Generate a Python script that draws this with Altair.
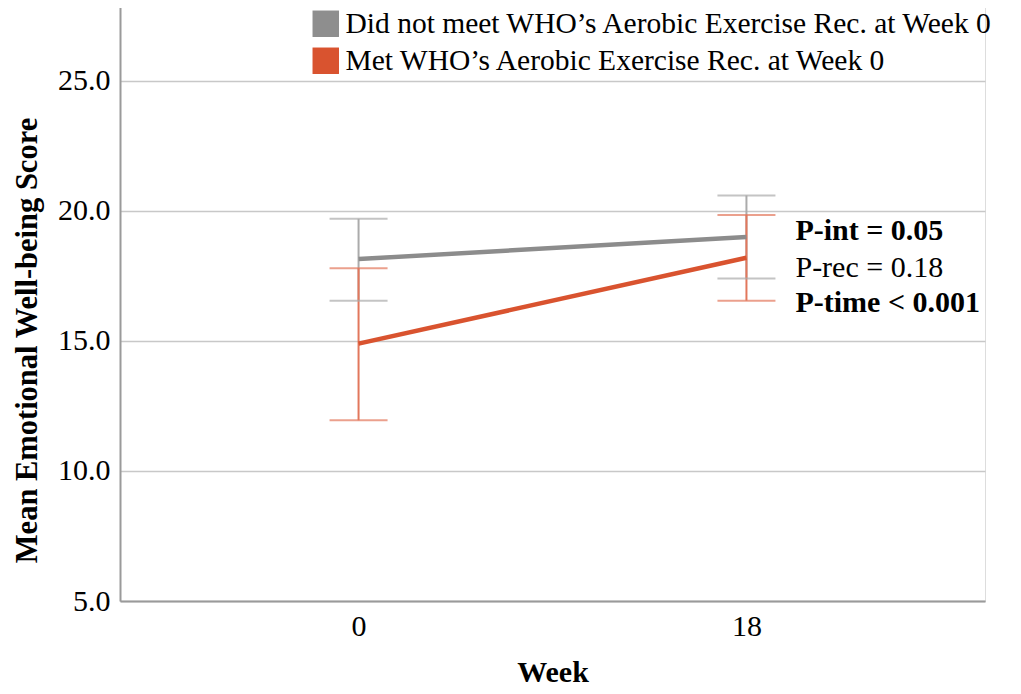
import altair as alt
import pandas as pd

weeks = ["0", "18"]
groups = ["Did not meet WHO’s Aerobic Exercise Rec. at Week 0",
          "Met WHO’s Aerobic Exercise Rec. at Week 0"]
gray_mean = [18.15, 19.0]
gray_lo = [16.55, 17.4]
gray_hi = [19.7, 20.6]
red_mean = [14.9, 18.2]
red_lo = [11.95, 16.55]
red_hi = [17.8, 19.85]

ann_bold = ["P-int = 0.05", "P-time < 0.001"]
ann_bold_y = [19.22, 16.45]
ann_norm = ["P-rec = 0.18"]
ann_norm_y = [17.8]

FONT = "Liberation Serif"
GRAY_LINE = "#8c8c8c"
RED_LINE = "#d9532f"
GRAY_ERR = "#ababab"
RED_ERR = "#e2775c"

rows = []
for i, w in enumerate(weeks):
    rows.append({"week": w, "group": groups[0], "mean": gray_mean[i], "lo": gray_lo[i], "hi": gray_hi[i]})
    rows.append({"week": w, "group": groups[1], "mean": red_mean[i], "lo": red_lo[i], "hi": red_hi[i]})
df = pd.DataFrame(rows)

ann_b = pd.DataFrame({"week": ["18"] * len(ann_bold), "y": ann_bold_y, "t": ann_bold})
ann_n = pd.DataFrame({"week": ["18"] * len(ann_norm), "y": ann_norm_y, "t": ann_norm})

xscale = alt.Scale(type="point", domain=weeks, padding=0.615)
x = alt.X("week:O", scale=xscale,
          axis=alt.Axis(title="Week", labelAngle=0, labelFont=FONT, labelFontSize=30,
                        labelColor="black", labelPadding=10, ticks=False,
                        titleFont=FONT, titleFontSize=30, titleFontWeight="bold",
                        titleColor="black", titlePadding=16,
                        domainColor="#9a9a9a", domainWidth=2, grid=False))
yscale = alt.Scale(domain=[5, 28.115], nice=False, zero=False)
y = alt.Y("mean:Q", scale=yscale,
          axis=alt.Axis(title="Mean Emotional Well-being Score", values=[5, 10, 15, 20, 25],
                        format=".1f", labelFont=FONT, labelFontSize=30, labelColor="black",
                        labelPadding=10, ticks=False, titleFont=FONT, titleFontSize=30.5,
                        titleFontWeight="bold", titleColor="black", titlePadding=15,
                        titleY=340,
                        domainColor="#9a9a9a", domainWidth=2, grid=True,
                        gridColor="#c8c8c8", gridWidth=1.5))

err_color = alt.Color("group:N", scale=alt.Scale(domain=groups, range=[GRAY_ERR, RED_ERR]), legend=None)

base = alt.Chart(df)

err_rule = base.mark_rule(strokeWidth=2).encode(x=x, y=alt.Y("lo:Q", scale=yscale), y2="hi:Q",
                                                 color=err_color)
cap_lo = base.mark_tick(size=58, thickness=2).encode(x=x, y=alt.Y("lo:Q", scale=yscale), color=err_color)
cap_hi = base.mark_tick(size=58, thickness=2).encode(x=x, y=alt.Y("hi:Q", scale=yscale), color=err_color)

lines = base.mark_line(strokeWidth=4.5).encode(
    x=x, y=y,
    color=alt.Color("group:N", scale=alt.Scale(domain=groups, range=[GRAY_LINE, RED_LINE]), legend=None),
    detail="group:N")

legend_pts = base.mark_square(size=0, filled=True, opacity=1).encode(
    x=x, y=alt.Y("mean:Q", scale=yscale),
    fill=alt.Fill("group:N", scale=alt.Scale(domain=groups, range=["#8e8e8e", "#d9532f"]),
                  legend=alt.Legend(title=None, orient="none", legendX=191, legendY=9,
                                    symbolType="square", symbolSize=700, symbolStrokeWidth=0,
                                    labelFont=FONT, labelFontSize=29.5, labelColor="black",
                                    labelLimit=0, labelOffset=5, rowPadding=6, padding=0)))

txt_b = alt.Chart(ann_b).mark_text(align="left", baseline="middle", dx=49, font=FONT,
                                   fontSize=30, fontWeight="bold", color="black").encode(
    x=alt.X("week:O", scale=xscale), y=alt.Y("y:Q", scale=yscale), text="t:N")
txt_n = alt.Chart(ann_n).mark_text(align="left", baseline="middle", dx=49, font=FONT,
                                   fontSize=30, color="black").encode(
    x=alt.X("week:O", scale=xscale), y=alt.Y("y:Q", scale=yscale), text="t:N")

chart = alt.layer(err_rule, cap_lo, cap_hi, lines, legend_pts, txt_b, txt_n).resolve_scale(
    color="independent").properties(
    width=865, height=601,
    autosize=alt.AutoSizeParams(type="none"),
    padding={"left": 112, "top": -8, "right": 28, "bottom": 85},
).configure_view(stroke=None).configure(background="white")

chart.save("out.html", embed_options={"renderer": "svg", "actions": False})
